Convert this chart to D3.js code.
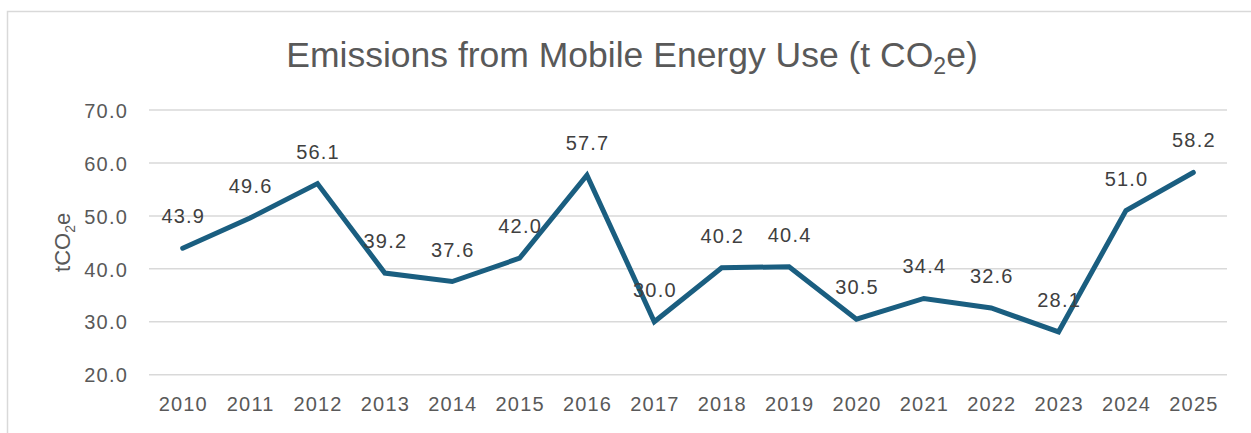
<!DOCTYPE html>
<html>
<head>
<meta charset="utf-8">
<script src="https://cdn.jsdelivr.net/npm/d3@7"></script>
<style>
  body { margin: 0; background: #fff; }
  .chart text { font-family: "Liberation Sans", Arial, sans-serif; }
  .grid line { stroke: #d9d9d9; stroke-width: 1.5; }
  .axis text { fill: #595959; font-size: 20px; letter-spacing: 1.2px; }
</style>
</head>
<body>
<div class="chart"></div>
<script>
var years = ["2010","2011","2012","2013","2014","2015","2016","2017","2018","2019","2020","2021","2022","2023","2024","2025"];
var emissions = [43.9, 49.6, 56.1, 39.2, 37.6, 42.0, 57.7, 30.0, 40.2, 40.4, 30.5, 34.4, 32.6, 28.1, 51.0, 58.2];
var yTicks = [20, 30, 40, 50, 60, 70];

var W = 1251, H = 433;
var margin = {top: 110, right: 24, bottom: 58, left: 149},
    width = 1227 - margin.left,
    height = 374.7 - margin.top;

var data = years.map(function(y, i) { return {year: y, value: emissions[i]}; });

var svg = d3.select(".chart")
    .append("svg")
    .attr("width", W)
    .attr("height", H);

// chart area border
svg.append("rect")
    .attr("x", 7.5).attr("y", 11.5)
    .attr("width", W + 10).attr("height", H + 10)
    .attr("fill", "#fff")
    .attr("stroke", "#d9d9d9")
    .attr("stroke-width", 1.5);

var g = svg.append("g")
    .attr("transform", "translate(" + margin.left + "," + margin.top + ")");

var x = d3.scaleBand().domain(years).range([0, width]);
var y = d3.scaleLinear().domain([20, 70]).range([height, 0]);

// gridlines
g.append("g").attr("class", "grid")
    .selectAll("line")
    .data(yTicks)
    .enter().append("line")
    .attr("x1", 0).attr("x2", width)
    .attr("y1", function(d) { return y(d); })
    .attr("y2", function(d) { return y(d); });

// Y axis
var yAxis = d3.axisLeft(y).tickValues(yTicks).tickFormat(d3.format(".1f")).tickSize(0).tickPadding(21);
g.append("g").attr("class", "y axis")
    .call(yAxis)
    .call(function(s) { s.select(".domain").remove(); })
    .selectAll("text").attr("dy", "0.36em");

// X axis
var xAxis = d3.axisBottom(x).tickSize(0).tickPadding(22);
g.append("g").attr("class", "x axis")
    .attr("transform", "translate(0," + height + ")")
    .call(xAxis)
    .call(function(s) { s.select(".domain").remove(); })
    .selectAll("text").attr("dy", "0.71em").attr("dx", "0.6px");

// line
var valueline = d3.line()
    .x(function(d) { return x(d.year) + x.bandwidth() / 2; })
    .y(function(d) { return y(d.value); });

g.append("path")
    .datum(data)
    .attr("fill", "none")
    .attr("stroke", "#1a5e80")
    .attr("stroke-width", 5)
    .attr("stroke-linejoin", "miter")
    .attr("stroke-linecap", "round")
    .attr("d", valueline);

// data labels
g.append("g")
    .selectAll("text")
    .data(data)
    .enter().append("text")
    .attr("x", function(d) { return x(d.year) + x.bandwidth() / 2 + 0.6; })
    .attr("y", function(d) { return y(d.value) - 25; })
    .attr("text-anchor", "middle")
    .attr("fill", "#404040")
    .style("font-size", "20px")
    .style("letter-spacing", "1.2px")
    .text(function(d) { return d3.format(".1f")(d.value); });

// title
var title = svg.append("text")
    .attr("x", 632).attr("y", 67)
    .attr("text-anchor", "middle")
    .attr("fill", "#595959")
    .style("font-size", "35.5px");
title.append("tspan").text("Emissions from Mobile Energy Use (t CO");
title.append("tspan").attr("dy", 7).style("font-size", "23px").text("2");
title.append("tspan").attr("dy", -7).text("e)");

// y axis title
var yt = svg.append("text")
    .attr("transform", "translate(70," + (margin.top + height / 2) + ") rotate(-90)")
    .attr("text-anchor", "middle")
    .attr("fill", "#595959")
    .style("font-size", "22px");
yt.append("tspan").text("tCO");
yt.append("tspan").attr("dy", 5).style("font-size", "14px").text("2");
yt.append("tspan").attr("dy", -5).text("e");
</script>
</body>
</html>
